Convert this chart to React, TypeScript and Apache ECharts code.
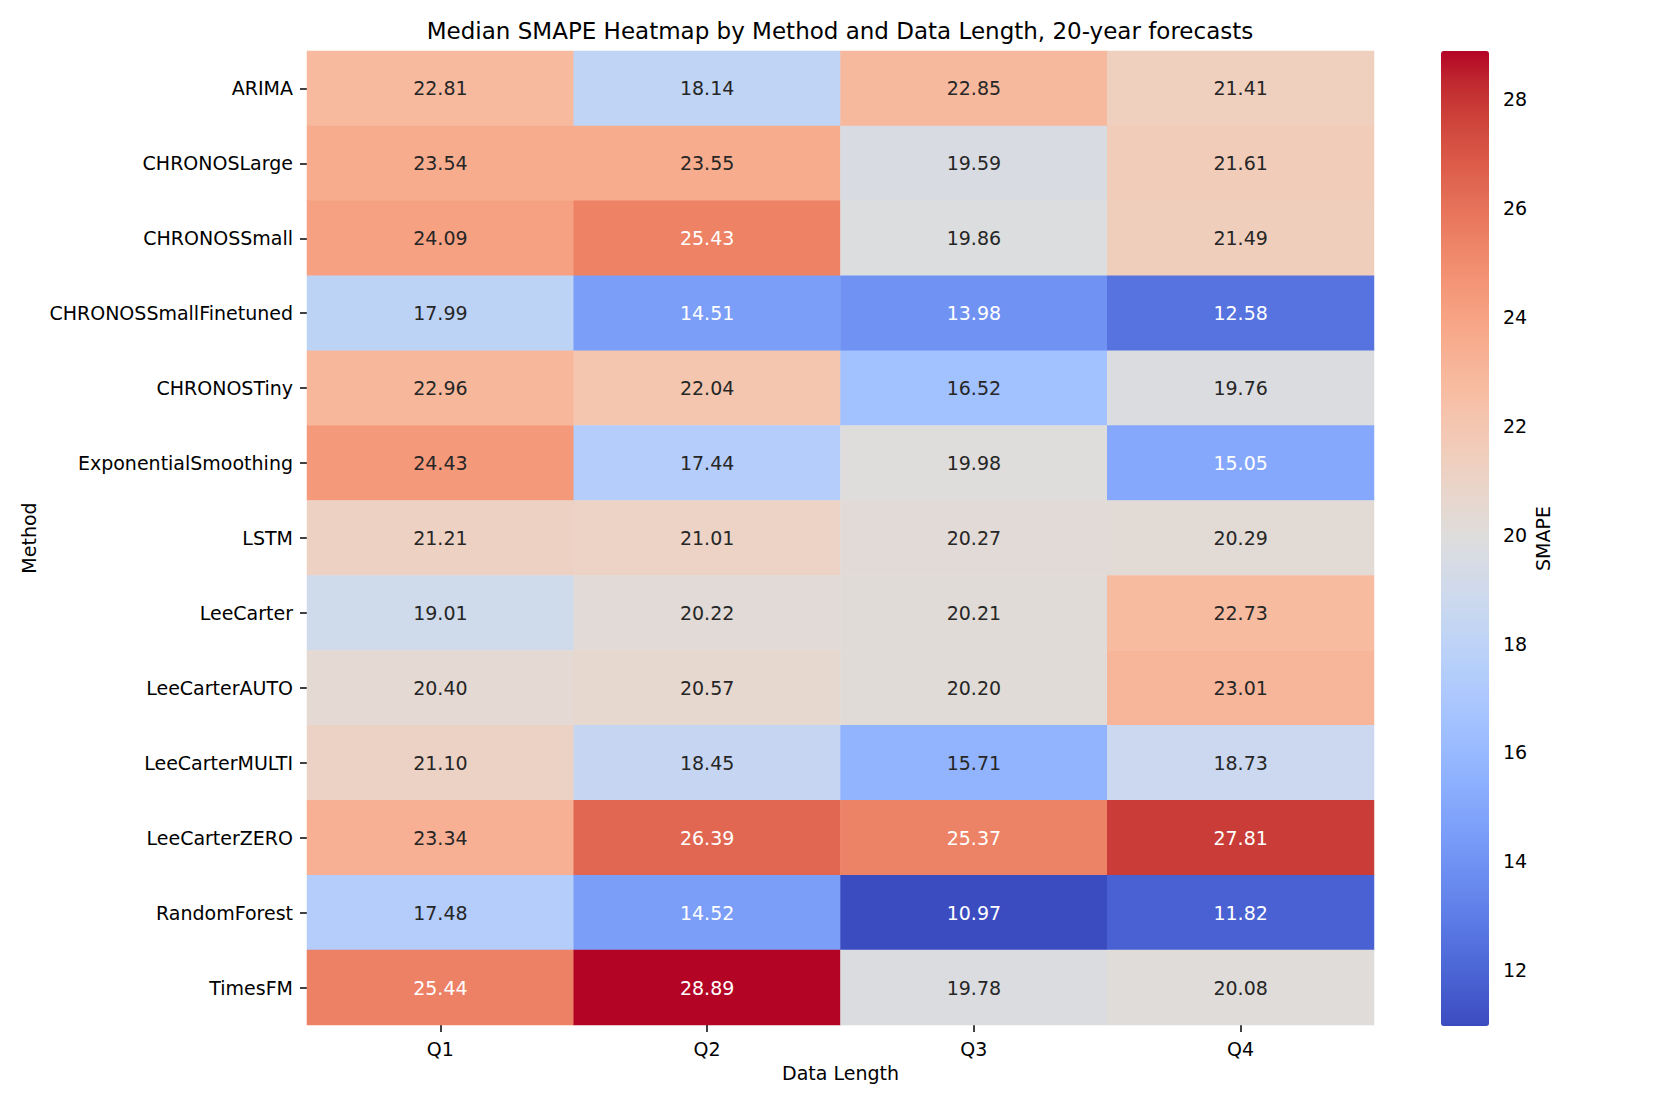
import React, { useEffect, useRef } from "react";
import * as echarts from "echarts";

const methods = [
  "ARIMA",
  "CHRONOSLarge",
  "CHRONOSSmall",
  "CHRONOSSmallFinetuned",
  "CHRONOSTiny",
  "ExponentialSmoothing",
  "LSTM",
  "LeeCarter",
  "LeeCarterAUTO",
  "LeeCarterMULTI",
  "LeeCarterZERO",
  "RandomForest",
  "TimesFM",
];
const quartiles = ["Q1", "Q2", "Q3", "Q4"];
const q1 = [22.81, 23.54, 24.09, 17.99, 22.96, 24.43, 21.21, 19.01, 20.4, 21.1, 23.34, 17.48, 25.44];
const q2 = [18.14, 23.55, 25.43, 14.51, 22.04, 17.44, 21.01, 20.22, 20.57, 18.45, 26.39, 14.52, 28.89];
const q3 = [22.85, 19.59, 19.86, 13.98, 16.52, 19.98, 20.27, 20.21, 20.2, 15.71, 25.37, 10.97, 19.78];
const q4 = [21.41, 21.61, 21.49, 12.58, 19.76, 15.05, 20.29, 22.73, 23.01, 18.73, 27.81, 11.82, 20.08];
const colorbarTicks = [12, 14, 16, 18, 20, 22, 24, 26, 28];

// coolwarm colormap (Moreland), 33 evenly spaced stops
const coolwarm: number[][] = [
  [59, 76, 192], [68, 90, 204], [77, 104, 215], [87, 117, 225], [98, 130, 234],
  [108, 142, 241], [119, 154, 247], [130, 165, 251], [141, 176, 254], [152, 185, 255],
  [163, 194, 255], [174, 201, 253], [184, 208, 249], [194, 213, 244], [204, 217, 238],
  [213, 219, 230], [221, 221, 221], [229, 216, 209], [236, 211, 197], [241, 204, 185],
  [245, 196, 173], [247, 187, 160], [247, 177, 148], [247, 166, 135], [244, 154, 123],
  [241, 141, 111], [236, 127, 99], [229, 112, 88], [222, 96, 77], [213, 80, 66],
  [203, 62, 56], [192, 40, 47], [180, 4, 38],
];
const coolwarmHex = coolwarm.map(
  (c) => "#" + c.map((v) => v.toString(16).padStart(2, "0")).join("")
);

function colorAt(t: number): number[] {
  const n = coolwarm.length - 1;
  const x = Math.max(0, Math.min(1, t)) * n;
  const i = Math.min(Math.floor(x), n - 1);
  const f = x - i;
  return coolwarm[i].map((v, k) => v + (coolwarm[i + 1][k] - v) * f);
}
function luminance(rgb: number[]): number {
  const lin = rgb.map((v) => {
    const c = v / 255;
    return c <= 0.03928 ? c / 12.92 : Math.pow((c + 0.055) / 1.055, 2.4);
  });
  return 0.2126 * lin[0] + 0.7152 * lin[1] + 0.0722 * lin[2];
}

const FONT = "DejaVu Sans";

export default function App() {
  const ref = useRef<HTMLDivElement>(null);
  useEffect(() => {
    document.body.style.margin = "0";
    document.body.style.overflow = "hidden";
    if (!ref.current) return;
    const chart = echarts.init(ref.current, null, { renderer: "svg" });
    const cols = [q1, q2, q3, q4];
    const all = cols.flat();
    const vmin = Math.min(...all);
    const vmax = Math.max(...all);
    const data: any[] = [];
    cols.forEach((col, xi) => {
      col.forEach((v, yi) => {
        const lum = luminance(colorAt((v - vmin) / (vmax - vmin)));
        data.push({
          value: [xi, yi, v],
          label: { color: lum > 0.408 ? "#262626" : "#ffffff" },
        });
      });
    });

    chart.setOption({
      animation: false,
      backgroundColor: "#ffffff",
      textStyle: { fontFamily: FONT },
      title: {
        text: "Median SMAPE Heatmap by Method and Data Length, 20-year forecasts",
        left: 840,
        top: 19,
        padding: 0,
        textAlign: "center",
        textStyle: { fontFamily: FONT, fontSize: 23, fontWeight: "normal", color: "#000" },
      },
      grid: [
        { left: 307, top: 51, width: 1067, height: 974 },
        { left: 1441, top: 51, width: 48, height: 975 },
      ],
      xAxis: [
        {
          type: "category",
          gridIndex: 0,
          data: quartiles,
          position: "bottom",
          axisLine: { show: false },
          axisTick: { show: true, length: 7, alignWithLabel: true, lineStyle: { color: "#000", width: 1.5 } },
          axisLabel: { margin: 14, color: "#000", fontSize: 19, fontFamily: FONT },
          splitLine: { show: false },
          name: "Data Length",
          nameLocation: "middle",
          nameGap: 38,
          nameTextStyle: { color: "#000", fontSize: 19, fontFamily: FONT, verticalAlign: "top" },
        },
        { type: "value", gridIndex: 1, show: false, min: 0, max: 1 },
      ],
      yAxis: [
        {
          type: "category",
          gridIndex: 0,
          data: methods,
          inverse: true,
          axisLine: { show: false },
          axisTick: { show: true, length: 7, alignWithLabel: true, lineStyle: { color: "#000", width: 1.5 } },
          axisLabel: { margin: 14, color: "#000", fontSize: 19, fontFamily: FONT },
          splitLine: { show: false },
          name: "Method",
          nameLocation: "middle",
          nameRotate: 90,
          nameGap: 268,
          nameTextStyle: { color: "#000", fontSize: 19, fontFamily: FONT },
        },
        {
          type: "value",
          gridIndex: 1,
          position: "right",
          min: vmin,
          max: vmax,
          axisLine: { show: false },
          axisTick: { show: true, length: 7, customValues: colorbarTicks, lineStyle: { color: "#000", width: 1.5 } },
          axisLabel: { show: true, margin: 14, customValues: colorbarTicks, color: "#000", fontSize: 19, fontFamily: FONT },
          splitLine: { show: false },
          name: "SMAPE",
          nameLocation: "middle",
          nameRotate: 90,
          nameGap: 44,
          nameTextStyle: { color: "#000", fontSize: 19, fontFamily: FONT },
        },
      ],
      visualMap: {
        type: "continuous",
        min: vmin,
        max: vmax,
        seriesIndex: 0,
        calculable: false,
        hoverLink: false,
        left: 1441,
        top: 51,
        padding: 0,
        itemWidth: 48,
        itemHeight: 975,
        text: ["", ""],
        showLabel: false,
        inRange: { color: coolwarmHex },
      },
      series: [
        {
          type: "heatmap",
          xAxisIndex: 0,
          yAxisIndex: 0,
          data,
          label: {
            show: true,
            fontSize: 19,
            fontFamily: FONT,
            formatter: (p: any) => p.value[2].toFixed(2),
          },
          itemStyle: { borderWidth: 0 },
          emphasis: { disabled: true },
        },
      ],
    });
    return () => chart.dispose();
  }, []);
  return <div ref={ref} style={{ width: 1661, height: 1107 }} />;
}
